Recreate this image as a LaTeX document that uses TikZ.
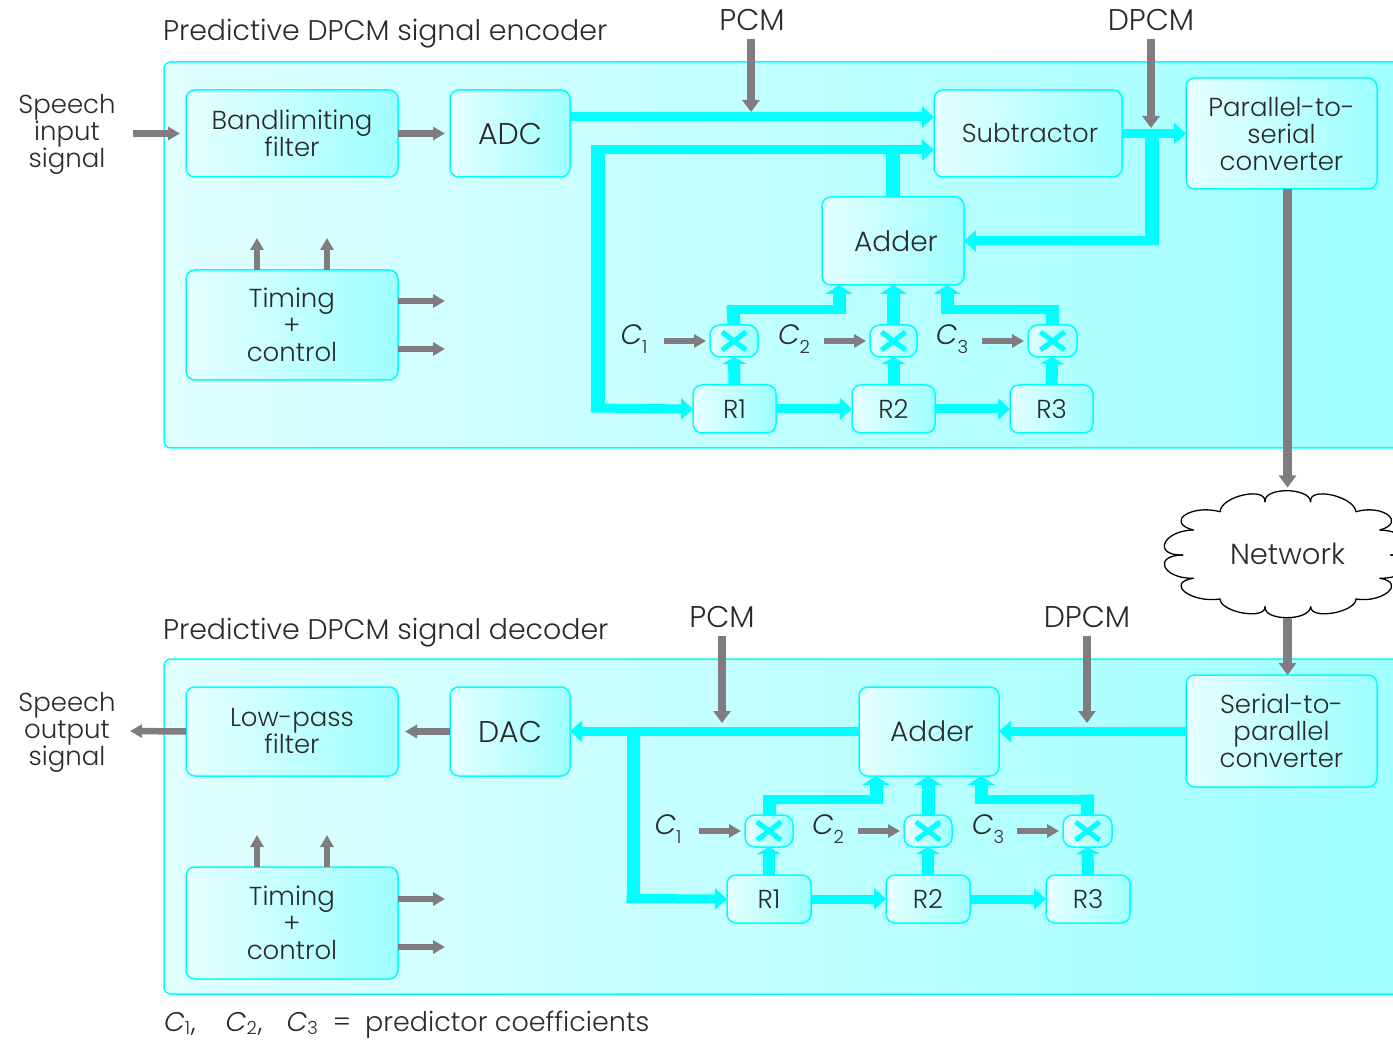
\documentclass[tikz,border=0pt]{standalone}
\usepackage{fontspec}
\setmainfont{Poppins Light}
\usetikzlibrary{arrows.meta}
\definecolor{cy}{HTML}{00FFFF}
\definecolor{gy}{HTML}{807C80}
\definecolor{ink}{HTML}{2A2A2A}
\newcommand{\coef}[1]{\textit{C}\raisebox{-0.3em}{\fontsize{18}{18}\selectfont #1}}
\newcommand{\fcoef}[1]{\textit{C}\raisebox{-3pt}{\fontsize{18}{18}\selectfont #1}}
\newcommand{\fsz}[1]{\fontsize{#1}{27}\selectfont}
\tikzset{
  txt/.style={inner sep=0pt,outer sep=0pt,align=center,text=ink,font=\fsz{26}},
  panel/.style={draw=cy,line width=1.5pt,rounded corners=7pt,left color=white!88!cy,right color=white!62!cy,inner sep=0pt},
  blk/.style={txt,draw=cy,line width=1.5pt,rounded corners=9pt,left color=white!90!cy,right color=white!62!cy},
  mul/.style={blk,rounded corners=10pt,path picture={
    \draw[cy,line width=5pt] ([shift={(-12pt,-9pt)}]path picture bounding box.center) -- ([shift={(12pt,9pt)}]path picture bounding box.center);
    \draw[cy,line width=5pt] ([shift={(-12pt,9pt)}]path picture bounding box.center) -- ([shift={(12pt,-9pt)}]path picture bounding box.center);}},
  thin cy/.style={draw=cy,line width=9pt,-{Triangle[length=12pt,width=21pt]}},
  up cy/.style={draw=cy,line width=13pt,-{Triangle[length=9pt,width=27pt]}},
  short cy/.style={draw=cy,line width=12pt,-{Triangle[length=7pt,width=24pt]}},
  seg/.style={draw=cy,line width=#1},
  seg/.default=10pt,
  big gy/.style={draw=gy,line width=8.5pt,-{Triangle[length=12pt,width=17pt]}},
  sm gy/.style={draw=gy,line width=6.5pt,-{Triangle[length=12pt,width=13pt]}},
  cloudline/.style={draw=black,line width=1.3pt,line cap=round},
}
\newcommand{\bx}[6][blk]{\node[#1,minimum width={(#4-#3)*1pt},minimum height={(#6-#5)*1pt}] (#2) at ({(#3+#4)/2},{(#5+#6)/2})}
\begin{document}
\begin{tikzpicture}[x=1pt,y=-1pt]
\useasboundingbox (0,0) rectangle (1393,1040);
\clip (0,0) rectangle (1393,1040);
% panels
\bx[panel]{encp}{164}{1420}{62}{448} {};
\bx[panel]{decp}{164}{1420}{659}{994} {};
% outside text
\node[txt,anchor=west,font=\fsz{28.4}] (ltitle1) at (163,34) {Predictive DPCM signal encoder};
\node[txt,anchor=west,font=\fsz{28.4}] (ltitle2) at (163,633) {Predictive DPCM signal decoder};
\node[txt] (spin) at (67,134) {Speech\\input\\signal};
\node[txt] (spout) at (67,732) {Speech\\output\\signal};
\node[txt,font=\fsz{30}] (pcm1) at (752,20) {PCM};
\node[txt,font=\fsz{30}] (dpcm1) at (1151,20) {DPCM};
\node[txt,font=\fsz{30}] (pcm2) at (722,617) {PCM};
\node[txt,font=\fsz{30}] (dpcm2) at (1087,617) {DPCM};
\node[txt,anchor=base west,font=\fsz{27}] (foot) at (164,1031) {\fcoef{1}\hspace{1pt},\hspace{30pt}\fcoef{2}\hspace{1pt},\hspace{24pt}\fcoef{3}\hspace{15pt}=\hspace{14pt}predictor coefficients};
% encoder blocks
\bx{band}{186}{398}{90}{177} {Bandlimiting\\filter};
\bx{adc}{450}{570}{90}{177} [font=\fsz{30}] {ADC};
\bx{sub}{934}{1122}{90}{177} {\hspace*{4pt}Subtractor};
\bx{pts}{1186}{1377}{78}{189} {Parallel-to-\\serial\\converter};
\bx{add}{822}{964}{197}{285} [font=\fsz{28}] {\hspace*{6pt}Adder};
\bx{tim}{186}{398}{270}{380} {Timing\\+\\control};
\bx{ra}{693}{776}{385}{433} {R1};
\bx{rb}{852}{935}{385}{433} {R2};
\bx{rc}{1010}{1093}{385}{433} {R3};
\bx[mul]{ma}{710}{758}{325}{357} {};
\bx[mul]{mb}{870}{917}{325}{357} {};
\bx[mul]{mc}{1028}{1077}{325}{357} {};
\node[txt,font=\fsz{28}] (ca) at (634,339) {\coef{1}};
\node[txt,font=\fsz{28}] (cb) at (794,339) {\coef{2}};
\node[txt,font=\fsz{28}] (cc) at (952,339) {\coef{3}};
% network
\node[txt,font=\fsz{29},minimum width=244pt,minimum height=128pt] (net) at (1287.5,553.5) {Network};
\foreach \ax/\ay/\px/\py/\qx/\qy in {
  1220/511.7/1243.3/495/1265/501.7,
  1265/501.7/1286.7/490.7/1310.7/501.7,
  1310.7/501.7/1331.7/495/1356/511.7,
  1356/511.7/1388/515/1380/530,
  1380/530/1408/543/1390.7/555,
  1390.7/555/1408/567/1380/578.3,
  1380/578.3/1388/592/1356/599,
  1356/599/1333/613/1310.7/606.7,
  1310.7/606.7/1286.7/617.7/1265/606.7,
  1265/606.7/1243/613/1220/599,
  1220/599/1185/592/1193.3/578.3,
  1193.3/578.3/1165/567/1182.7/555,
  1182.7/555/1165/543/1193.3/530,
  1193.3/530/1185/515/1220/511.7}{
  \draw[cloudline] (\ax,\ay) .. controls ({\ax+4/3*(\px-(\ax+\qx)/2)},{\ay+4/3*(\py-(\ay+\qy)/2)}) and ({\qx+4/3*(\px-(\ax+\qx)/2)},{\qy+4/3*(\py-(\ay+\qy)/2)}) .. (\qx,\qy);
}
% decoder blocks
\bx{lpf}{186}{398}{687}{776} {Low-pass\\filter};
\bx{dac}{450}{570}{687}{776} [font=\fsz{30}] {DAC};
\bx{addd}{859}{999}{687}{776} [font=\fsz{28}] {\hspace*{6pt}Adder};
\bx{stp}{1186}{1377}{675}{787} {Serial-to-\\parallel\\converter};
\bx{timd}{186}{398}{867}{979} {Timing\\+\\control};
\bx{rd}{727}{811}{875}{923} {R1};
\bx{re}{886}{970}{875}{923} {R2};
\bx{rf}{1046}{1130}{875}{923} {R3};
\bx[mul]{md}{745}{793}{815}{847} {};
\bx[mul]{me}{904}{952}{815}{847} {};
\bx[mul]{mf}{1063}{1112}{815}{847} {};
\node[txt,font=\fsz{28}] (cd) at (668,829) {\coef{1}};
\node[txt,font=\fsz{28}] (ce) at (828,829) {\coef{2}};
\node[txt,font=\fsz{28}] (cf) at (988,829) {\coef{3}};
% coordinates
\coordinate (adcout) at (570,117);
\coordinate (subtop) at (934,117);
\coordinate (subbot) at (934,150);
\coordinate (fbk) at (893,150);
\coordinate (fbl) at (598,150);
\coordinate (fbb) at (598,408);
\coordinate (tap) at (1152,133.5);
\coordinate (tapb) at (1152,241);
\coordinate (pcmhit) at (751,112);
\coordinate (dpcmhit) at (1151,128);
\coordinate (inl) at (133,133.5);
\coordinate (inr) at (180,133.5);
% encoder cyan
\draw[thin cy] (adcout) -- (subtop);
\draw[seg=14pt] (add.north -| fbk) -- (fbk);
\draw[thin cy] ([xshift=-7pt]fbl) -- (subbot);
\draw[seg=14pt] ([yshift=4.5pt]fbl) -- ([yshift=-4.5pt]fbb);
\draw[thin cy] ([xshift=-7pt]fbb) -- (ra.west);
\draw[thin cy] (sub.east) -- (pts.west);
\draw[seg=14pt] (tap) -- ([yshift=-4.5pt]tapb);
\draw[thin cy] ([xshift=7pt]tapb) -- (add.east);
\draw[thin cy] (ra.east) -- (rb.west);
\draw[thin cy] (rb.east) -- (rc.west);
\foreach \r/\m in {ra/ma,rb/mb,rc/mc}{\draw[short cy] (\r.north) -- (\m.south);}
\coordinate (ka) at (733,310);
\coordinate (kb) at (839,310);
\coordinate (kc) at (1052,310);
\coordinate (kd) at (947,310);
\draw[seg=13pt] (ma.north) -- ([yshift=4.5pt]ka);
\draw[seg=9pt] ([xshift=-6.5pt]ka) -- ([xshift=6.5pt]kb);
\draw[up cy] ([yshift=-4.5pt]kb) -- (kb |- add.south);
\draw[up cy] (mb.north) -- (mb.north |- add.south);
\draw[seg=13pt] (mc.north) -- ([yshift=4.5pt]kc);
\draw[seg=9pt] ([xshift=6.5pt]kc) -- ([xshift=-6.5pt]kd);
\draw[up cy] ([yshift=-4.5pt]kd) -- (kd |- add.south);
% encoder grey
\draw[big gy] (pcm1.south -| pcmhit) ++(0,8) -- (pcmhit);
\draw[big gy] (dpcm1.south -| dpcmhit) ++(0,8) -- (dpcmhit);
\draw[sm gy] (inl) -- (inr);
\draw[sm gy] (band.east) -- ([xshift=-5pt]adc.west);
\draw[sm gy] (tim.north) ++(-35,0) -- ++(0,-32);
\draw[sm gy] (tim.north) ++(35,0) -- ++(0,-32);
\draw[sm gy] (tim.east) ++(0,-24) -- ++(47,0);
\draw[sm gy] (tim.east) ++(0,24) -- ++(47,0);
\draw[big gy] (pts.south -| net.north) -- ([yshift=2pt]net.north);
\draw[big gy] (net.south) -- (net.south |- stp.north);
% decoder cyan
\draw[thin cy] (addd.west) -- (dac.east);
\draw[thin cy] (stp.west |- addd.east) -- (addd.east);
\coordinate (dtap) at (633,731);
\coordinate (dtapb) at (633,898.5);
\draw[seg=13pt] (dtap) -- ([yshift=-4.5pt]dtapb);
\draw[thin cy] ([xshift=-6.5pt]dtapb) -- (rd.west);
\draw[thin cy] (rd.east) -- (re.west);
\draw[thin cy] (re.east) -- (rf.west);
\foreach \r/\m in {rd/md,re/me,rf/mf}{\draw[short cy] (\r.north) -- (\m.south);}
\coordinate (kda) at (769,799);
\coordinate (kdb) at (876,799);
\coordinate (kdc) at (1087,799);
\coordinate (kdd) at (981,799);
\draw[seg=13pt] (md.north) -- ([yshift=4.5pt]kda);
\draw[seg=9pt] ([xshift=-6.5pt]kda) -- ([xshift=6.5pt]kdb);
\draw[up cy] ([yshift=-4.5pt]kdb) -- (kdb |- addd.south);
\draw[up cy] (me.north) -- (me.north |- addd.south);
\draw[seg=13pt] (mf.north) -- ([yshift=4.5pt]kdc);
\draw[seg=9pt] ([xshift=6.5pt]kdc) -- ([xshift=-6.5pt]kdd);
\draw[up cy] ([yshift=-4.5pt]kdd) -- (kdd |- addd.south);
% decoder grey
\coordinate (dpa) at (722,723);
\coordinate (dpb) at (1087,723);
\draw[big gy] (pcm2.south -| dpa) ++(0,8) -- (dpa);
\draw[big gy] (dpcm2.south -| dpb) ++(0,8) -- (dpb);
\coordinate (outl) at (130,731);
\draw[sm gy] (lpf.west) -- (outl);
\draw[sm gy] (dac.west) -- ([xshift=7pt]lpf.east);
\draw[sm gy] (timd.north) ++(-35,0) -- ++(0,-32);
\draw[sm gy] (timd.north) ++(35,0) -- ++(0,-32);
\draw[sm gy] (timd.east) ++(0,-24) -- ++(47,0);
\draw[sm gy] (timd.east) ++(0,24) -- ++(47,0);
% coefficient arrows
\foreach \m in {ma,mb,mc,md,me,mf}{\draw[sm gy] (\m.west) ++(-46,0) -- ++(42,0);}
\end{tikzpicture}
\end{document}
